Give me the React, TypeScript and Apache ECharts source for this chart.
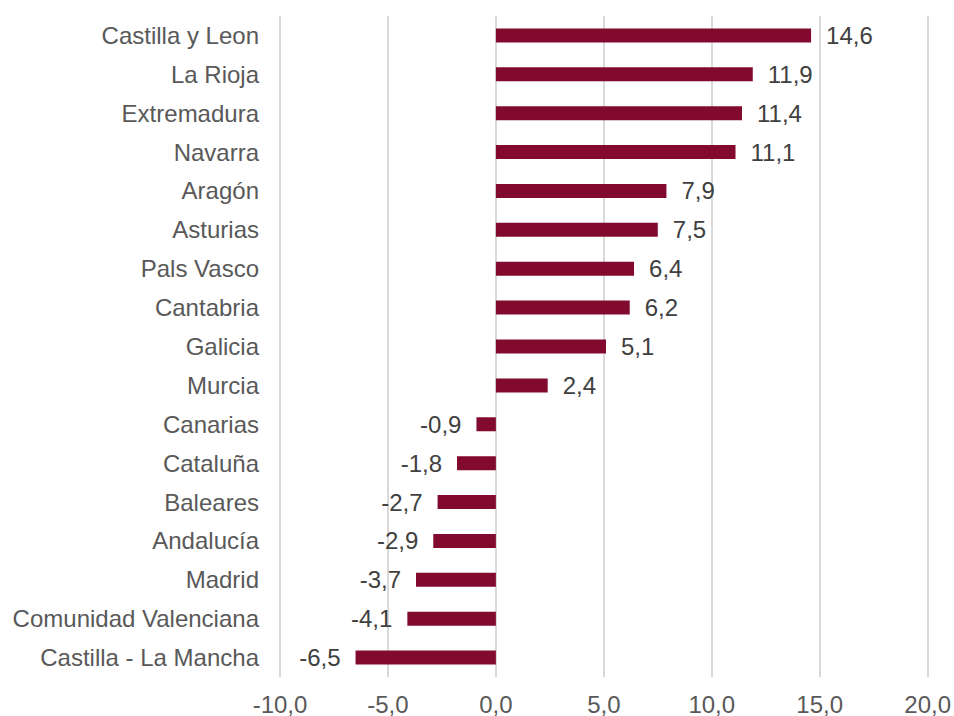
import React, { useEffect, useRef } from "react";
import * as echarts from "echarts";

const regions = [
  "Castilla y Leon",
  "La Rioja",
  "Extremadura",
  "Navarra",
  "Aragón",
  "Asturias",
  "Pals Vasco",
  "Cantabria",
  "Galicia",
  "Murcia",
  "Canarias",
  "Cataluña",
  "Baleares",
  "Andalucía",
  "Madrid",
  "Comunidad Valenciana",
  "Castilla - La Mancha",
];
const values = [14.6, 11.9, 11.4, 11.1, 7.9, 7.5, 6.4, 6.2, 5.1, 2.4, -0.9, -1.8, -2.7, -2.9, -3.7, -4.1, -6.5];

const fmt = (v: number) => v.toFixed(1).replace(".", ",");
const FONT = "'Liberation Sans', Arial, sans-serif";

export default function App() {
  const ref = useRef<HTMLDivElement>(null);
  useEffect(() => {
    if (!ref.current) return;
    const chart = echarts.init(ref.current, undefined, { renderer: "svg" });
    const cats = [...regions].reverse();
    const vals = [...values].reverse();
    chart.setOption({
      animation: false,
      textStyle: { fontFamily: FONT },
      grid: { left: 280, right: 26, top: 16, bottom: 38, containLabel: false },
      xAxis: {
        type: "value",
        min: -10,
        max: 20,
        interval: 5,
        axisLine: { show: false },
        axisTick: { show: false },
        splitLine: { show: true, lineStyle: { color: "#D9D9D9", width: 2 } },
        axisLabel: {
          fontSize: 24,
          fontFamily: FONT,
          color: "#595959",
          margin: 15,
          formatter: (v: number) => fmt(v),
        },
      },
      yAxis: {
        type: "category",
        data: cats,
        axisLine: { show: false },
        axisTick: { show: false },
        axisLabel: { fontSize: 24, fontFamily: FONT, color: "#595959", margin: 21 },
      },
      series: [
        {
          type: "bar",
          barWidth: 14,
          itemStyle: { color: "#820A2E" },
          data: vals.map((v) => ({
            value: v,
            label: {
              show: true,
              position: v >= 0 ? "right" : "left",
              distance: 15,
              fontSize: 24,
              fontFamily: FONT,
              color: "#404040",
              formatter: () => fmt(v),
            },
          })),
        },
      ],
    });
    return () => chart.dispose();
  }, []);
  return (
    <div
      ref={ref}
      style={{ position: "absolute", left: 0, top: 0, width: 954, height: 716, background: "#fff" }}
    />
  );
}
